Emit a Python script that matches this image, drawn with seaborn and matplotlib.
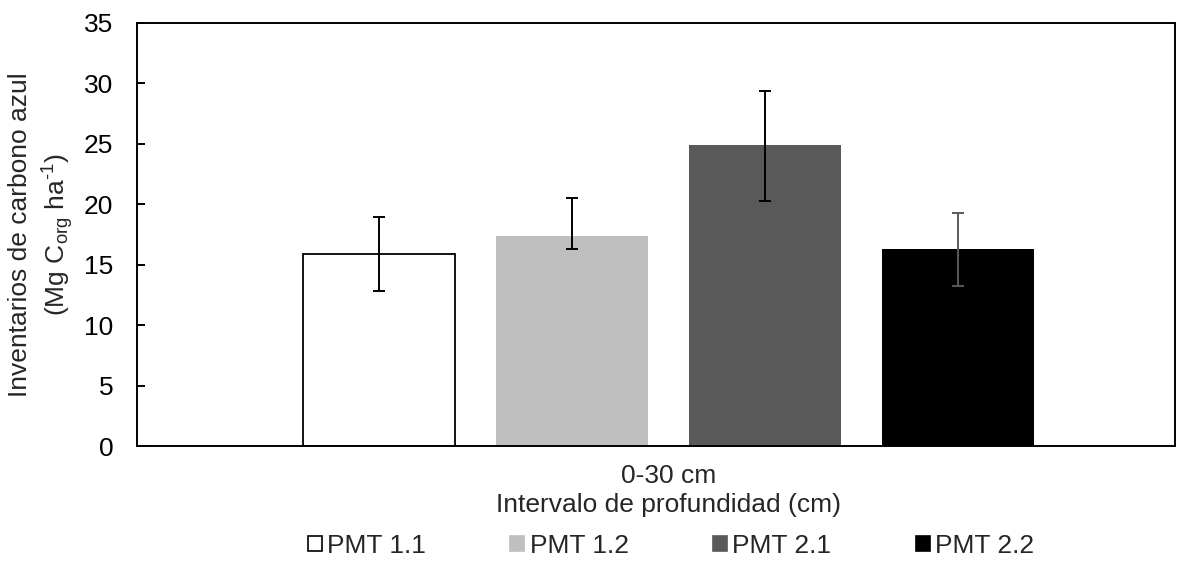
"""
Blue carbon inventories (0-30 cm) per site, bar chart with custom error bars.
"""
import matplotlib
matplotlib.use("Agg")
import matplotlib.pyplot as plt
from matplotlib.patches import Patch
import seaborn as sns
import pandas as pd

# data
sites = ["PMT 1.1", "PMT 1.2", "PMT 2.1", "PMT 2.2"]
depth = ["0-30 cm"]
means = [15.9, 17.35, 24.9, 16.3]
err_low = [12.85, 16.3, 20.3, 13.25]
err_high = [18.95, 20.5, 29.4, 19.25]

bar_colors = ["#ffffff", "#bfbfbf", "#595959", "#000000"]
err_colors = ["#000000", "#000000", "#000000", "#595959"]

sns.set_style("white")
plt.rcParams["font.family"] = ["Liberation Sans", "DejaVu Sans"]
plt.rcParams["mathtext.fontset"] = "custom"
plt.rcParams["mathtext.rm"] = "Liberation Sans"
plt.rcParams["mathtext.default"] = "regular"

FS = 19

df = pd.DataFrame({"depth": depth * len(sites), "site": sites, "value": means})

fig = plt.figure(figsize=(11.89, 5.61), dpi=100)
ax = fig.add_axes([137 / 1189, 1 - 446 / 561, (1175 - 137) / 1189, (446 - 23) / 561])

sns.barplot(data=df, x="depth", y="value", hue="site", hue_order=sites,
            palette=bar_colors, errorbar=None, width=0.8, gap=0.21,
            legend=False, ax=ax, saturation=1)

bars = list(ax.patches)
for p, c in zip(bars, bar_colors):
    p.set_edgecolor("#000000" if c == "#ffffff" else c)
    p.set_linewidth(1.3 if c == "#ffffff" else 0)

for p, m, lo, hi, ec in zip(bars, means, err_low, err_high, err_colors):
    cx = p.get_x() + p.get_width() / 2
    ax.errorbar(cx, m, yerr=[[m - lo], [hi - m]], fmt="none", ecolor=ec,
                elinewidth=1.4, capsize=4.3, capthick=1.4, zorder=5)

ax.set_xlim(-0.5508, 0.5249)
ax.set_ylim(0, 35)
ax.set_yticks(range(0, 36, 5))
ax.tick_params(axis="y", direction="in", length=6, width=1.4, labelsize=FS,
               pad=17, colors="#000000", left=True)
ax.tick_params(axis="x", length=0, labelsize=FS, pad=13)

for s in ax.spines.values():
    s.set_visible(True)
    s.set_color("#000000")
    s.set_linewidth(1.4)

ax.set_xlabel("Intervalo de profundidad (cm)", fontsize=FS)
ax.xaxis.set_label_coords((668.5 - 137) / (1175 - 137), -0.112)
ax.set_ylabel("Inventarios de carbono azul\n(Mg C$_{org}$ ha$^{\\text{-}1}$)",
              fontsize=FS, linespacing=1.3)
ax.yaxis.set_label_coords(-0.059, 0.5)

handles = [Patch(facecolor=c, edgecolor=("#000000" if c == "#ffffff" else c),
                 linewidth=1.2) for c in bar_colors]
fig.legend(handles, sites, loc="lower center", ncol=4, frameon=False,
           bbox_to_anchor=(671 / 1189, -0.018), fontsize=FS, borderpad=0,
           handlelength=0.53, handleheight=0.53, handletextpad=0.2,
           columnspacing=3.2)

fig.savefig("out.png", dpi=100)
